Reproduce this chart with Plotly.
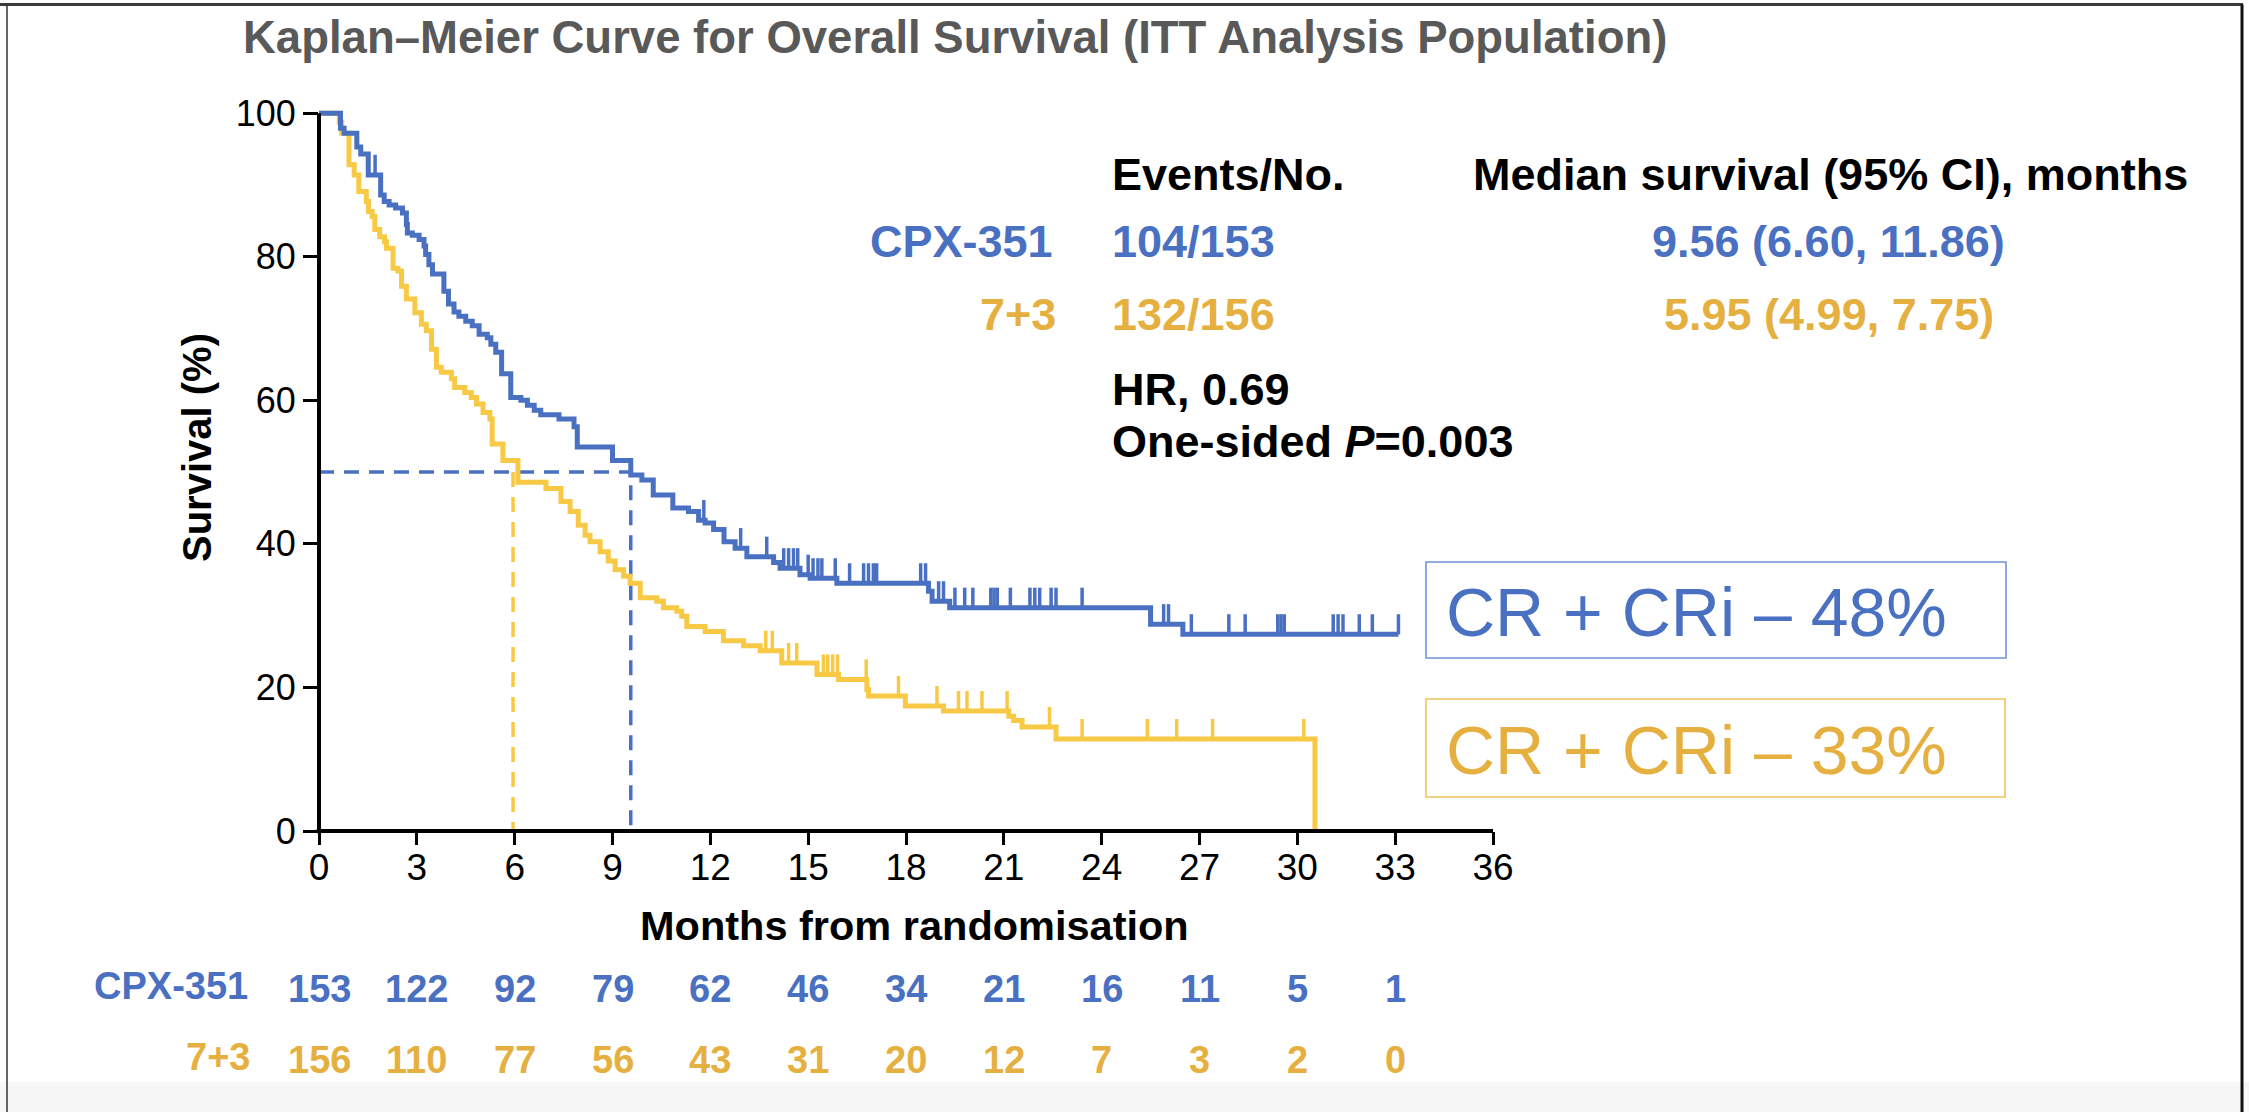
import numpy as np
import plotly.graph_objects as go

# ---------------- data ----------------
# CPX-351 Kaplan-Meier steps (months, survival %)
cpx_t = [0, 0.66, 0.77, 1.16, 1.28, 1.51, 1.89, 2.0, 2.15, 2.35, 2.56, 2.68, 2.71, 2.86, 3.07,
         3.22, 3.27, 3.37, 3.48, 3.83, 3.97, 4.14, 4.29, 4.50, 4.70, 4.91, 5.16, 5.27, 5.42,
         5.60, 5.88, 6.19, 6.39, 6.60, 6.80, 7.36, 7.82, 7.92, 9.0, 9.56, 9.90, 10.25, 10.85,
         11.33, 11.64, 11.84, 12.1, 12.42, 12.76, 13.12, 13.94, 14.14, 14.75, 15.06, 15.88,
         18.69, 18.8, 19.34, 25.5, 26.49, 33.1]
cpx_s = [100, 97.9, 97.2, 95.3, 94.3, 91.4, 88.6, 87.7, 87.2, 86.8, 86.1, 84.5, 83.3, 83.0, 82.4,
         81.5, 80.3, 78.9, 77.6, 75.2, 73.4, 72.3, 71.7, 71.0, 70.4, 69.2, 68.7, 67.8, 66.7,
         63.7, 60.4, 60.0, 59.3, 58.6, 58.0, 57.4, 56.3, 53.5, 51.6, 49.6, 48.9, 46.8, 45.0,
         44.5, 43.3, 42.9, 42.0, 40.3, 39.4, 38.2, 37.4, 36.6, 35.7, 35.2, 34.5,
         33.4, 32.0, 31.1, 28.8, 27.4, 27.4]
cpx_censor = [1.72, 11.8, 12.93, 13.73, 14.25, 14.4, 14.55, 14.68, 15.0, 15.15, 15.3, 15.42,
              15.83, 16.27, 16.7, 16.85, 17.0, 17.1, 18.45, 18.6, 19.0, 19.15, 19.5, 19.8,
              20.05, 20.6, 20.7, 20.8, 21.2, 21.8, 21.95, 22.1, 22.45, 22.6, 23.4, 25.9,
              26.05, 26.75, 27.9, 28.4, 29.4, 29.5, 29.6, 31.1, 31.25, 31.4, 31.9, 32.3, 33.1]

# 7+3 Kaplan-Meier steps
std_t = [0, 0.62, 0.70, 0.92, 1.08, 1.22, 1.45, 1.52, 1.63, 1.71, 1.86, 2.01, 2.07, 2.27, 2.42,
         2.53, 2.68, 2.94, 3.14, 3.29, 3.45, 3.60, 3.75, 4.06, 4.16, 4.47, 4.67, 4.83, 5.03,
         5.24, 5.31, 5.64, 6.10, 6.96, 7.42, 7.70, 7.95, 8.16, 8.31, 8.62, 8.87, 9.08, 9.34,
         9.54, 9.85, 10.36, 10.56, 10.97, 11.12, 11.28, 11.84, 12.40, 13.02, 13.53, 14.19,
         15.27, 15.93, 16.80, 16.85, 17.98, 19.15, 21.15, 21.30, 21.56, 22.60, 30.54, 30.54]
std_s = [100, 98.7, 97.2, 92.8, 91.4, 89.1, 87.7, 86.3, 85.6, 83.8, 82.8, 82.1, 81.2, 78.4, 78.0,
         75.9, 74.1, 72.2, 70.6, 69.7, 67.1, 64.6, 63.9, 63.0, 61.8, 61.1, 60.4, 59.5, 58.3,
         57.4, 53.9, 51.6, 48.6, 47.7, 45.9, 44.5, 42.6, 41.2, 40.3, 38.9, 37.6, 36.4, 35.5,
         34.5, 32.5, 32.0, 31.1, 30.6, 29.9, 28.5, 27.8, 26.5, 25.8, 25.1, 23.4,
         21.8, 21.1, 19.7, 18.8, 17.4, 16.7, 16.0, 15.4, 14.5, 12.8, 12.8, 0]
std_censor = [13.7, 13.9, 14.4, 14.65, 15.47, 15.6, 15.75, 15.9, 16.78, 17.77, 18.95, 19.61,
              19.87, 20.33, 21.1, 22.4, 23.4, 25.4, 26.3, 27.4, 30.2]

median_cpx = 9.56
median_std = 5.95

risk_months = [0, 3, 6, 9, 12, 15, 18, 21, 24, 27, 30, 33]
risk_cpx = [153, 122, 92, 79, 62, 46, 34, 21, 16, 11, 5, 1]
risk_std = [156, 110, 77, 56, 43, 31, 20, 12, 7, 3, 2, 0]

x_ticks = list(range(0, 37, 3))
y_ticks = [0, 20, 40, 60, 80, 100]

# ---------------- style ----------------
W, H = 2249, 1112
L, R, T, B = 319, 756, 106, 281
PW = W - L - R
PH = H - T - B


def px(X):
    return (X - L) / PW


def py(Y):
    return (H - B - Y) / PH


FONT = "Liberation Sans, Arial, Helvetica, sans-serif"
BLUE = "#4A70C2"
BLUE_BOX = "#7093D6"
YEL_LINE = "#F8C945"
YEL_TEXT = "#E5B03F"
YEL_BOX = "#F0C45C"
GRAY = "#595959"
CENSOR_H = 2.8


def censor_segments(times, t, s):
    t = np.asarray(t)
    s = np.asarray(s)
    xs, ys = [], []
    for c in times:
        lvl = s[np.searchsorted(t, c, side="right") - 1]
        xs += [c, c, None]
        ys += [lvl, lvl + CENSOR_H, None]
    return xs, ys


fig = go.Figure()

# median reference lines (dashed)
dash = "15px,10px"
fig.add_trace(go.Scatter(x=[0, median_cpx, median_cpx], y=[50, 50, 0], mode="lines",
                         line=dict(color=BLUE, width=3.5, dash=dash), hoverinfo="skip",
                         showlegend=False))
fig.add_trace(go.Scatter(x=[median_std, median_std], y=[50, 0], mode="lines",
                         line=dict(color=YEL_LINE, width=3.5, dash=dash), hoverinfo="skip",
                         showlegend=False))

# KM curves
fig.add_trace(go.Scatter(x=std_t, y=std_s, mode="lines", line_shape="hv",
                         line=dict(color=YEL_LINE, width=5), name="7+3", showlegend=False))
cx, cy = censor_segments(std_censor, std_t, std_s)
fig.add_trace(go.Scatter(x=cx, y=cy, mode="lines", line=dict(color=YEL_LINE, width=3.5),
                         hoverinfo="skip", showlegend=False))

fig.add_trace(go.Scatter(x=cpx_t, y=cpx_s, mode="lines", line_shape="hv",
                         line=dict(color=BLUE, width=5), name="CPX-351", showlegend=False))
cx, cy = censor_segments(cpx_censor, cpx_t, cpx_s)
fig.add_trace(go.Scatter(x=cx, y=cy, mode="lines", line=dict(color=BLUE, width=3.5),
                         hoverinfo="skip", showlegend=False))

shapes = []
# axis lines (paper refs so they are not clipped)
y100 = 100 / 101
shapes.append(dict(type="line", xref="paper", yref="paper", x0=0, x1=0, y0=-0.003, y1=y100,
                   line=dict(color="black", width=4)))
shapes.append(dict(type="line", xref="paper", yref="paper", x0=-0.002, x1=1, y0=0, y1=0,
                   line=dict(color="black", width=4)))
# CR boxes
shapes.append(dict(type="rect", xref="paper", yref="paper", x0=px(1426), x1=px(2006),
                   y0=py(658), y1=py(562), line=dict(color=BLUE_BOX, width=1.6)))
shapes.append(dict(type="rect", xref="paper", yref="paper", x0=px(1426), x1=px(2005),
                   y0=py(797), y1=py(699), line=dict(color=YEL_BOX, width=1.6)))
# slide frame
shapes.append(dict(type="rect", xref="paper", yref="paper", x0=px(0), x1=px(W),
                   y0=py(H), y1=py(1082), line=dict(width=0), fillcolor="rgba(0,0,0,0.03)",
                   layer="below"))
shapes.append(dict(type="line", xref="paper", yref="paper", x0=px(0), x1=px(2243),
                   y0=py(4.5), y1=py(4.5), line=dict(color="#3a3a3a", width=3)))
shapes.append(dict(type="line", xref="paper", yref="paper", x0=px(7), x1=px(7),
                   y0=py(4.5), y1=py(H), line=dict(color="#333333", width=1.5)))
shapes.append(dict(type="line", xref="paper", yref="paper", x0=px(2242), x1=px(2242),
                   y0=py(4.5), y1=py(H), line=dict(color="#111111", width=3)))

ann = []


def add_text(text, X, Y, size, color="black", anchor="left", xref="paper"):
    ann.append(dict(text=text, x=px(X) if xref == "paper" else X, xref=xref,
                    y=py(Y), yref="paper", xanchor=anchor, yanchor="middle",
                    showarrow=False, font=dict(family=FONT, size=size, color=color)))


# title
add_text("<b>Kaplan\u2013Meier Curve for Overall Survival (ITT Analysis Population)</b>",
         955, 37, 45.5, GRAY, "center")
# axis titles
add_text("<b>Months from randomisation</b>", 914, 925, 41.5, "black", "center")
ann.append(dict(text="<b>Survival (%)</b>", x=px(197), y=py(448), xref="paper", yref="paper",
                textangle=-90, showarrow=False, xanchor="center", yanchor="middle",
                font=dict(family=FONT, size=40, color="black")))

# stats block
SF = 45
add_text("<b>Events/No.</b>", 1110, 174, SF)
add_text("<b>Median survival (95% CI), months</b>", 1831, 174, SF, "black", "center")
add_text("<b>CPX-351</b>", 1055, 242, SF, BLUE, "right")
add_text("<b>104/153</b>", 1110, 242, SF, BLUE)
add_text("<b>%.2f (6.60, 11.86)</b>" % median_cpx, 1828, 242, SF, BLUE, "center")
add_text("<b>7+3</b>", 1058, 314, SF, YEL_TEXT, "right")
add_text("<b>132/156</b>", 1110, 314, SF, YEL_TEXT)
add_text("<b>%.2f (4.99, 7.75)</b>" % median_std, 1829, 314, SF, YEL_TEXT, "center")
add_text("<b>HR, 0.69</b>", 1110, 389, SF)
add_text("<b>One-sided <i>P</i>=0.003</b>", 1110, 441, SF)

# CR boxes text
add_text("CR + CRi \u2013 48%", 1444, 612, 68, BLUE)
add_text("CR + CRi \u2013 33%", 1444, 750, 68, YEL_TEXT)

# numbers at risk
add_text("<b>CPX-351</b>", 250, 986, 38, BLUE, "right")
add_text("<b>7+3</b>", 252, 1057, 38, YEL_TEXT, "right")
for m, a, b in zip(risk_months, risk_cpx, risk_std):
    add_text("<b>%d</b>" % a, m, 989, 38, BLUE, "center", xref="x")
    add_text("<b>%d</b>" % b, m, 1060, 38, YEL_TEXT, "center", xref="x")

fig.update_layout(
    width=W, height=H,
    margin=dict(l=L, r=R, t=T, b=B, pad=0),
    paper_bgcolor="white", plot_bgcolor="white",
    showlegend=False,
    shapes=shapes, annotations=ann,
    xaxis=dict(range=[0, 36], tickvals=x_ticks, ticktext=[str(v) for v in x_ticks],
               showline=False, showgrid=False, zeroline=False,
               ticks="outside", ticklen=13, tickwidth=3, tickcolor="black",
               ticklabelstandoff=-9,
               tickfont=dict(family=FONT, size=37, color="black")),
    yaxis=dict(range=[0, 101], tickvals=y_ticks, ticktext=[str(v) for v in y_ticks],
               showline=False, showgrid=False, zeroline=False,
               ticks="outside", ticklen=15, tickwidth=3, tickcolor="black",
               tickfont=dict(family=FONT, size=36, color="black")),
)

fig.write_html("out.html", config={"displayModeBar": False},
               post_script="document.body.style.margin='0px';")
